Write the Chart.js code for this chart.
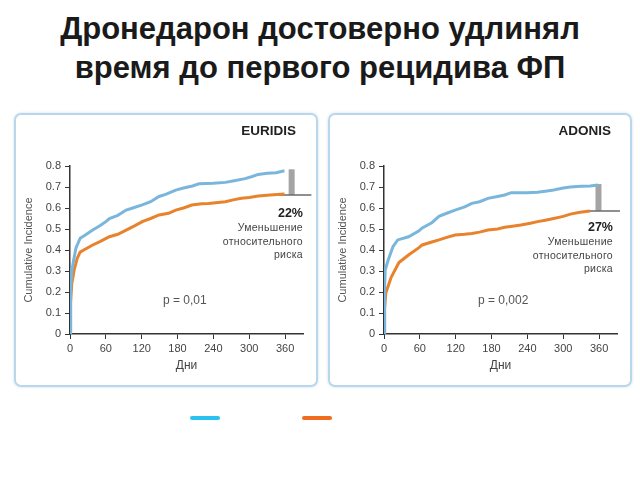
<!DOCTYPE html>
<html>
<head>
<meta charset="utf-8">
<script src="https://cdn.jsdelivr.net/npm/chart.js@4.4.0/dist/chart.umd.min.js"></script>
<style>
  body { margin: 0; width: 640px; height: 480px; background: #fff; position: relative; overflow: hidden; font-family: "Liberation Sans", Arial, sans-serif; }
  #title { position: absolute; left: 0; top: 9px; width: 640px; text-align: center; font-weight: bold; font-size: 31px; line-height: 39px; color: #1a1a1a; }
  .panel { position: absolute; top: 113px; width: 300px; height: 270px; border: 2px solid #b9d7ea; border-radius: 7px; box-shadow: 0 0 3px rgba(120,160,190,0.35); }
  .wrap { position: absolute; top: 114px; width: 304px; height: 274px; }
  .study { position: absolute; top: 123px; font-weight: bold; font-size: 13.5px; color: #222; text-align: right; }
  .note { position: absolute; text-align: right; font-size: 10.5px; line-height: 13.8px; color: #444; letter-spacing: 0.3px; }
  .note b { font-size: 12.5px; color: #222; letter-spacing: 0; }
  .pval { position: absolute; font-size: 12px; color: #555; }
  .leg { position: absolute; top: 416px; width: 30px; height: 4px; border-radius: 2px; }
</style>
</head>
<body>
<div id="title">Дронедарон достоверно удлинял<br>время до первого рецидива ФП</div>

<div class="panel" style="left:14px"></div>
<div class="panel" style="left:328px"></div>
<div class="wrap" style="left:14px"><canvas id="euridisChart" width="304" height="274"></canvas></div>
<div class="wrap" style="left:328px"><canvas id="adonisChart" width="304" height="274"></canvas></div>

<div class="study" style="left:196px;width:100px">EURIDIS</div>
<div class="study" style="left:511px;width:100px">ADONIS</div>

<div class="note" style="left:200px;width:103px;top:207px"><b>22%</b><br>Уменьшение<br>относительного<br>риска</div>
<div class="note" style="left:510px;width:103px;top:221px"><b>27%</b><br>Уменьшение<br>относительного<br>риска</div>

<div class="pval" style="left:163px;top:293px">p = 0,01</div>
<div class="pval" style="left:478px;top:293px">p = 0,002</div>

<div class="leg" style="left:190px;background:#2ac2ef"></div>
<div class="leg" style="left:302px;background:#f06c1e"></div>

<script>
// axis ticks
const xTicks = [0, 60, 120, 180, 240, 300, 360];
const yTicks = [0, 0.1, 0.2, 0.3, 0.4, 0.5, 0.6, 0.7, 0.8];

// EURIDIS
const euridisPlaceboDays = [0, 1, 3, 6, 10, 17, 25, 38, 50, 60, 66, 80, 94, 105, 121, 135, 149, 160, 177, 190, 205, 216, 240, 260, 275, 293, 305, 315, 330, 345, 359];
const euridisPlaceboVals = [0, 0.22, 0.30, 0.35, 0.41, 0.456, 0.47, 0.495, 0.515, 0.535, 0.55, 0.565, 0.59, 0.60, 0.615, 0.63, 0.655, 0.665, 0.685, 0.695, 0.705, 0.715, 0.718, 0.722, 0.73, 0.74, 0.75, 0.76, 0.765, 0.768, 0.777];
const euridisDroneDays = [0, 1, 3, 7, 12, 17, 23, 38, 50, 66, 80, 94, 108, 121, 135, 149, 165, 177, 190, 204, 220, 232, 260, 275, 287, 300, 315, 335, 359];
const euridisDroneVals = [0, 0.15, 0.24, 0.305, 0.36, 0.39, 0.40, 0.424, 0.44, 0.463, 0.475, 0.495, 0.515, 0.535, 0.55, 0.567, 0.575, 0.59, 0.60, 0.614, 0.62, 0.622, 0.63, 0.64, 0.646, 0.65, 0.657, 0.662, 0.667];

// ADONIS
const adonisPlaceboDays = [0, 1, 2, 7, 15, 23, 41, 58, 64, 80, 92, 105, 119, 135, 147, 160, 174, 190, 202, 213, 240, 257, 270, 284, 300, 312, 330, 345, 358];
const adonisPlaceboVals = [0, 0.22, 0.305, 0.352, 0.416, 0.448, 0.463, 0.49, 0.505, 0.53, 0.56, 0.575, 0.59, 0.605, 0.622, 0.63, 0.646, 0.655, 0.662, 0.673, 0.673, 0.675, 0.68, 0.686, 0.695, 0.70, 0.703, 0.705, 0.71];
const adonisDroneDays = [0, 1, 3, 12, 25, 41, 58, 64, 80, 92, 105, 119, 135, 147, 160, 174, 190, 202, 215, 229, 245, 257, 270, 284, 300, 312, 328, 345];
const adonisDroneVals = [0, 0.12, 0.195, 0.27, 0.34, 0.376, 0.41, 0.424, 0.438, 0.448, 0.46, 0.471, 0.475, 0.479, 0.485, 0.495, 0.50, 0.508, 0.513, 0.519, 0.527, 0.535, 0.542, 0.55, 0.56, 0.571, 0.58, 0.586];

// gray difference markers [day, low, high] and baseline [fromDay, toDay, level]
const euridisBar = [371, 0.662, 0.784];
const euridisBase = [350, 404, 0.662];
const adonisBar = [359, 0.586, 0.714];
const adonisBase = [340, 395, 0.586];

const blueLine = '#7ab6db';
const orangeLine = '#e8822c';
const axisColor = '#333333';
const tickColor = '#444444';

function toPoints(days, vals) {
    return days.map((d, i) => ({ x: d, y: vals[i] }));
}

function makeChart(ctx, placebo, drone, bar, base) {
    return new Chart(ctx, {
        type: 'line',
        data: {
            datasets: [
                {
                    data: placebo, borderColor: blueLine, borderWidth: 3,
                    pointRadius: 0, tension: 0, fill: false
                },
                {
                    data: drone, borderColor: orangeLine, borderWidth: 3,
                    pointRadius: 0, tension: 0, fill: false
                },
                {
                    data: [{ x: base[0], y: base[2] }, { x: base[1], y: base[2] }],
                    borderColor: '#6a6a6a', borderWidth: 1.5, pointRadius: 0, clip: false
                },
                {
                    data: [{ x: bar[0], y: bar[1] }, { x: bar[0], y: bar[2] }],
                    borderColor: '#a4a4a4', borderWidth: 6, pointRadius: 0, clip: false
                },
                {
                    data: [{ x: bar[0] - 1.5, y: bar[1] }, { x: bar[0] - 1.5, y: bar[2] }],
                    borderColor: '#d8d8d8', borderWidth: 1.5, pointRadius: 0, clip: false
                }
            ]
        },
        options: {
            responsive: false,
            animation: false,
            layout: { padding: { left: 8, top: 52, right: 15, bottom: 8 } },
            scales: {
                x: {
                    type: 'linear', min: 0, max: 390,
                    afterBuildTicks: (s) => { s.ticks = xTicks.map(v => ({ value: v })); },
                    afterFit: (s) => { s.height = 46; },
                    grid: { display: true, drawOnChartArea: false, drawTicks: true, tickLength: 5, color: axisColor },
                    border: { display: true, color: axisColor, width: 1.5 },
                    ticks: { color: tickColor, font: { size: 11, family: 'Liberation Sans' }, padding: 3, maxRotation: 0 },
                    title: { display: true, text: 'Дни', color: tickColor, font: { size: 12, family: 'Liberation Sans' }, padding: { top: 2, bottom: 7 } }
                },
                y: {
                    min: 0, max: 0.8,
                    afterBuildTicks: (s) => { s.ticks = yTicks.map(v => ({ value: v })); },
                    afterFit: (s) => { s.width = 48; },
                    grid: { display: true, drawOnChartArea: false, drawTicks: true, tickLength: 5, color: axisColor },
                    border: { display: true, color: axisColor, width: 1.5 },
                    ticks: {
                        color: tickColor, font: { size: 11, family: 'Liberation Sans' }, padding: 4,
                        callback: (v) => v === 0 ? '0' : v.toFixed(1)
                    },
                    title: { display: true, text: 'Cumulative Incidence', color: '#555555', font: { size: 11, family: 'Liberation Sans' }, padding: { top: 0, bottom: 4 } }
                }
            },
            plugins: { legend: { display: false }, tooltip: { enabled: false } }
        }
    });
}

makeChart(document.getElementById('euridisChart').getContext('2d'),
    toPoints(euridisPlaceboDays, euridisPlaceboVals),
    toPoints(euridisDroneDays, euridisDroneVals), euridisBar, euridisBase);

makeChart(document.getElementById('adonisChart').getContext('2d'),
    toPoints(adonisPlaceboDays, adonisPlaceboVals),
    toPoints(adonisDroneDays, adonisDroneVals), adonisBar, adonisBase);
</script>
</body>
</html>
